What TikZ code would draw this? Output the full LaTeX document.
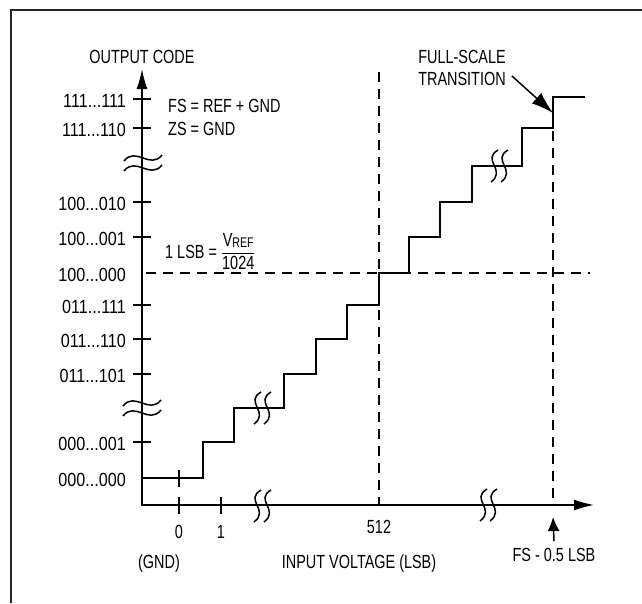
\documentclass[tikz,border=0pt]{standalone}
\usepackage{fontspec}
\setmainfont{Liberation Sans}[FakeStretch=0.76]
\newfontfamily\codefont{Liberation Sans}[FakeStretch=0.85]
\usetikzlibrary{arrows.meta}
\newcommand\trip{...}
\tikzset{
frame/.style={line width=2.2pt, black!85},
axis/.style={line width=1.6pt, line join=miter},
stair/.style={line width=1.6pt},
guide/.style={line width=1.3pt, dash pattern=on 10pt off 7pt},
brk/.style={line width=1.5pt},
lbl/.style={font=\fontsize{19}{22}\selectfont, inner sep=0pt},
ylbl/.style={lbl, font=\fontsize{19}{22}\codefont, anchor=east},
pointer/.style={line width=1.5pt, -{Latex[length=22pt,width=14pt]}},
ysplit/.pic={\foreach \d in {-5,5}
    \draw[brk] (-19,\d+3) .. controls (-7,\d-12) and (7,\d+12) .. (19,\d-3);},
xsplit/.pic={\foreach \d in {-5,5}
    \draw[brk] (\d+4,-16) .. controls (\d-13,-6) and (\d+13,4) .. (\d-3,16);},
}

\begin{document}
\begin{tikzpicture}[x=1pt,y=-1pt]
\useasboundingbox (0,0) rectangle (642,603);
\draw[frame] (11,603) -- (11,10) -- (642,10);

% axes
\coordinate (O) at (142,505);
\coordinate (ytip) at (142,69);
\coordinate (xtip) at (594,505);
\draw[axis, {Latex[length=20pt,width=11pt]}-{Latex[length=20pt,width=11pt]}] (ytip) -- (O) -- (xtip);
\node[lbl] (ytitle) at (142,57) {OUTPUT CODE};
\node[lbl] (xtitle) at (359,564) {INPUT VOLTAGE (LSB)};

% output codes
\foreach \y/\code [count=\i] in {99/111\trip111, 128/111\trip110, 202/100\trip010,
    237/100\trip001, 273/100\trip000, 305/011\trip111, 339/011\trip110,
    374/011\trip101, 442/000\trip001, 478/000\trip000}
  \node[ylbl] (c\i) at (126,\y+2) {\code};
\foreach \y in {99,128,202,237,305,339,374,442}
  \draw[axis] (133,\y) -- (151,\y);

% input voltage
\draw[axis] (179,497) -- (179,514) (221,497) -- (221,514);
\node[lbl] (v0) at (179,532) {0};
\node[lbl] (v1) at (221,532) {1};
\node[lbl] (v512) at (379,527) {512};
\node[lbl] (gnd) at (159,564) {(GND)};

% guides
\draw[guide] (146,273) -- (590,273);
\draw[guide] (379,72) -- (379,505);
\draw[guide] (553,131) -- (553,505);

% transfer function
\draw[stair] (142,478) -- (203,478) |- (234,442) |- (284,408) |- (316,374)
  |- (347,339) |- (379,305) |- (409,273) |- (440,237) |- (472,202)
  |- (522,166) |- (553,128) |- (585,97);
\draw[stair] (179,470) -- (179,487);

% breaks
\pic at (143,163) {ysplit};
\pic at (142,408) {ysplit};
\pic at (262,506) {xsplit};
\pic at (488,505) {xsplit};
\pic at (262,408) {xsplit};
\pic at (499,166) {xsplit};

% notes
\node[lbl, anchor=west] (fs) at (168,106) {FS = REF + GND};
\node[lbl, anchor=west] (zs) at (168,129) {ZS = GND};
\node[lbl, anchor=base west] (lsb) at (165,258)
  {1 LSB = $\displaystyle\frac{\mbox{V\raisebox{-1.5pt}{\fontsize{14}{14}\selectfont REF}}}{\mbox{1024}}$};
\node[lbl, align=center] (fsl) at (462,68) {FULL-SCALE\\TRANSITION};
\coordinate (fstip) at (553,113);
\draw[pointer] ([xshift=6pt,yshift=-8pt]fsl.east) -- (fstip);
\node[lbl] (fsh) at (554,555) {FS - 0.5 LSB};
\coordinate (fsmark) at (553,517);
\draw[line width=1.5pt, -{Latex[length=14pt,width=12pt]}] ([yshift=7pt]fsh.north) -- (fsmark);
\end{tikzpicture}
\end{document}
